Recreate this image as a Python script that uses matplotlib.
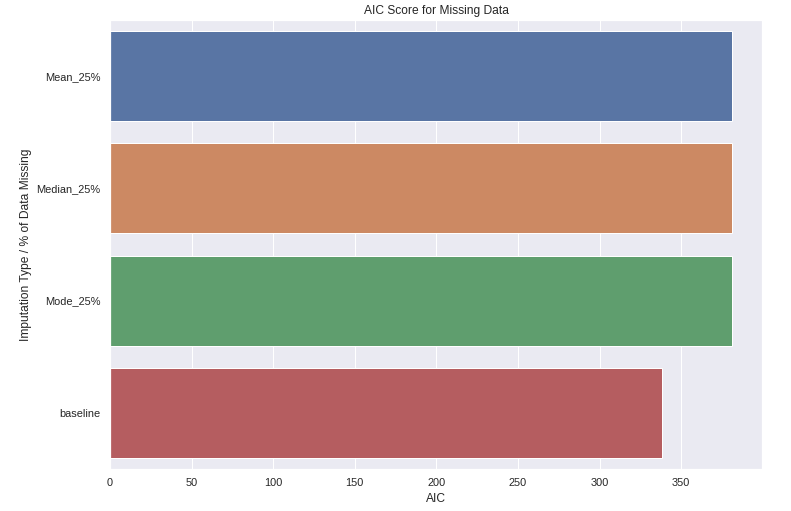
import matplotlib
matplotlib.use("Agg")
import matplotlib.pyplot as plt
import seaborn as sns
import pandas as pd

categories = ["Mean_25%", "Median_25%", "Mode_25%", "baseline"]
aic_values = [381.0, 381.0, 381.0, 338.5]

sns.set_theme(style="darkgrid")
plt.rcParams['font.family'] = ['Liberation Sans', 'DejaVu Sans']

fig = plt.figure(figsize=(791/72, 511/72), dpi=72)
ax = fig.add_axes([110/791, 1-469/511, (762-110)/791, (469-20)/511])

df = pd.DataFrame({"model": categories, "AIC": aic_values})
sns.barplot(data=df, x="AIC", y="model", hue="model", ax=ax, legend=False,
            palette=sns.color_palette("deep", 4), saturation=0.75)

ax.set_xlim(0, 399.5)
ax.set_title("AIC Score for Missing Data", fontsize=12, color=".15")
ax.set_xlabel("AIC", fontsize=12, color=".15")
ax.set_ylabel("Imputation Type / % of Data Missing", fontsize=12, color=".15")
ax.tick_params(labelsize=11, labelcolor=".15")

fig.savefig("out.png", dpi=72)
